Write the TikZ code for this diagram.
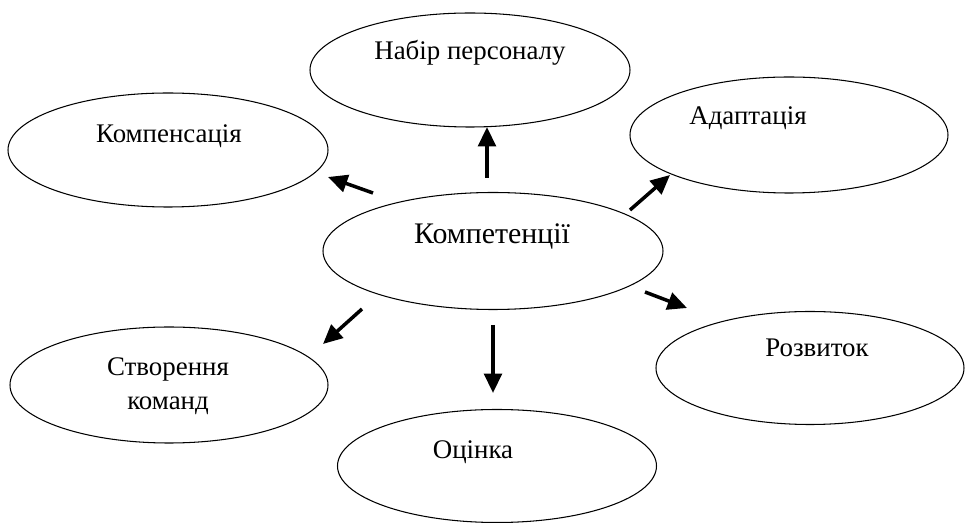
\documentclass[tikz,border=0pt]{standalone}
\usepackage{fontspec}
\setmainfont{Liberation Serif}
\newfontfamily\ukrserif{Liberation Serif}
\usetikzlibrary{shapes.geometric,arrows.meta}

\begin{document}
\begin{tikzpicture}[x=0.02cm, y=-0.02cm, line join=round,
  oval/.style 2 args={draw, ellipse, line width=0.6pt, inner sep=0pt,
    minimum width=#1*0.02cm, minimum height=#2*0.02cm},
  lbl/.style={anchor=base, font=\ukrserif\fontsize{15.3}{18}\selectfont},
  arr/.style={line width=2pt, -{Triangle[length=11pt, width=10pt]}}]
  \useasboundingbox (0,0) rectangle (965,523);

  % --- Овали (координати в пікселях) ---
  \node[oval={340}{117}] (core)  at (493,251) {};
  \node[oval={320}{114}] (hire)  at (470,70)  {};
  \node[oval={320}{114}] (comp)  at (168,150) {};
  \node[oval={318}{116}] (adapt) at (789,135) {};
  \node[oval={318}{116}] (team)  at (169,385) {};
  \node[oval={308}{113}] (dev)   at (810,368) {};
  \node[oval={319}{113}] (eval)  at (497,466) {};

  % --- Підписи ---
  \node[lbl, font=\ukrserif\fontsize{17}{20}\selectfont] (core-t) at (492,244) {Компетенції};
  \node[lbl] (hire-t)  at (470,60)  {Набір персоналу};
  \node[lbl] (comp-t)  at (169,143) {Компенсація};
  \node[lbl] (adapt-t) at (748,125) {Адаптація};
  \node[lbl] (team-t)  at (168,376) {Створення};
  \node[lbl] (team-b)  at (168,410) {команд};
  \node[lbl] (dev-t)   at (817,357) {Розвиток};
  \node[lbl] (eval-t)  at (473,459) {Оцінка};

  % --- Кінці стрілок (початок -- вістря) ---
  \coordinate (u0) at (487,178);  \coordinate (u1) at (487,127);
  \coordinate (ul0) at (373,193); \coordinate (ul1) at (328,177);
  \coordinate (ur0) at (630,210); \coordinate (ur1) at (670,175);
  \coordinate (dr0) at (645,292); \coordinate (dr1) at (687,308);
  \coordinate (dl0) at (362,309); \coordinate (dl1) at (323,344);
  \coordinate (d0) at (493,325);  \coordinate (d1) at (493,393);

  % --- Стрілки ---
  \foreach \a in {u,ul,ur,dr,dl,d}
    \draw[arr] (\a0) -- (\a1);
\end{tikzpicture}
\end{document}
